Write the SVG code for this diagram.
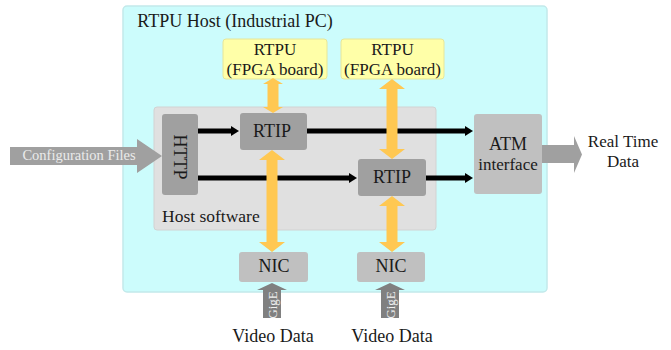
<svg xmlns="http://www.w3.org/2000/svg" width="671" height="350" viewBox="0 0 671 350">
<defs>
<style>
.t{font-family:"Liberation Serif","Times New Roman",serif;fill:#1a1a1a;text-anchor:middle;font-size:18px}
.t2{font-size:17px}
.orange{fill:#ffc852}
.blk{stroke:#000;stroke-width:5;fill:none}
</style>
<marker id="ah" markerWidth="2" markerHeight="2" refX="0.2" refY="1" orient="auto" markerUnits="strokeWidth">
<path d="M0,0 L1.6,1 L0,2 Z" fill="#000"/>
</marker>
</defs>
<rect width="671" height="350" fill="#fff"/>
<g id="host">
<rect x="123" y="6" width="424" height="286" rx="4" fill="#ccfcfc" stroke="#c2e9ea" stroke-width="1.5"/>
<text class="t" x="235" y="27">RTPU Host (Industrial PC)</text>
</g>
<g id="hostsw">
<rect x="154" y="107" width="282" height="123" rx="3" fill="#e0e0e0" stroke="#d2d2d2"/>
<text class="t" x="162" y="222" style="text-anchor:start;font-size:17.5px">Host software</text>
</g>
<g id="rtpu1">
<rect x="223" y="39" width="104" height="40" rx="3" fill="#ffffa8" stroke="#e6e69a"/>
<text class="t t2" x="275" y="55">RTPU</text>
<text class="t t2" x="275" y="74.5">(FPGA board)</text>
</g>
<g id="rtpu2">
<rect x="341" y="39" width="103" height="40" rx="3" fill="#ffffa8" stroke="#e6e69a"/>
<text class="t t2" x="392.5" y="55">RTPU</text>
<text class="t t2" x="392.5" y="74.5">(FPGA board)</text>
</g>
<g id="http">
<rect x="162" y="114" width="36" height="81" rx="3" fill="#a0a0a0"/>
<text class="t" transform="translate(180,157) rotate(90)" y="6">HTTP</text>
</g>
<g id="rtip1">
<rect x="240" y="113" width="67" height="37" rx="3" fill="#a0a0a0"/>
<text class="t" x="272" y="137">RTIP</text>
</g>
<g id="rtip2">
<rect x="358" y="159" width="68" height="37" rx="3" fill="#a0a0a0"/>
<text class="t" x="392" y="183">RTIP</text>
</g>
<g id="atm">
<rect x="474" y="114" width="68" height="80" rx="3" fill="#c0c0c0"/>
<text class="t" x="508" y="150">ATM</text>
<text class="t" x="508" y="169.5" style="font-size:17px">interface</text>
</g>
<g id="nic1">
<rect x="239" y="252" width="69" height="30" rx="3" fill="#c0c0c0"/>
<text class="t" x="274" y="272">NIC</text>
</g>
<g id="nic2">
<rect x="357" y="252" width="68" height="30" rx="3" fill="#c0c0c0"/>
<text class="t" x="391" y="272">NIC</text>
</g>
<g id="connectors">
<line class="blk" x1="198" y1="131" x2="232" y2="131" marker-end="url(#ah)"/>
<line class="blk" x1="307" y1="131" x2="466" y2="131" marker-end="url(#ah)"/>
<line class="blk" x1="198" y1="178" x2="350" y2="178" marker-end="url(#ah)"/>
<line class="blk" x1="426" y1="178" x2="466" y2="178" marker-end="url(#ah)"/>
<path class="orange" d="M273,78 L283,84 L278.5,84 L278.5,107 L283,107 L273,113 L263,107 L267.5,107 L267.5,84 L263,84 Z"/>
<path class="orange" d="M272,150 L285,160 L277.5,160 L277.5,242 L285,242 L272,252 L259,242 L266.5,242 L266.5,160 L259,160 Z"/>
<path class="orange" d="M392,79 L405,89 L397.5,89 L397.5,149 L405,149 L392,159 L379,149 L386.5,149 L386.5,89 L379,89 Z"/>
<path class="orange" d="M392,196 L405,206 L397.5,206 L397.5,242 L405,242 L392,252 L379,242 L386.5,242 L386.5,206 L379,206 Z"/>
<path d="M10,147 L137,147 L137,139 L162,156 L137,173 L137,165 L10,165 Z" fill="#a0a0a0"/>
<text class="t" x="79" y="160" style="font-size:14.5px;fill:#ebebeb">Configuration Files</text>
<path d="M542,145 L574,145 L574,136 L582,154.5 L574,173 L574,163 L542,163 Z" fill="#a0a0a0"/>
<path d="M263,318 L263,290 L257,290 L272,283 L287,290 L281,290 L281,318 Z" fill="#808080"/>
<text class="t" transform="translate(272,305) rotate(-90)" y="5" style="font-size:13px;fill:#f0f0f0">GigE</text>
<path d="M381,318 L381,290 L375,290 L390,283 L405,290 L399,290 L399,318 Z" fill="#808080"/>
<text class="t" transform="translate(390,305) rotate(-90)" y="5" style="font-size:13px;fill:#f0f0f0">GigE</text>
</g>
<g id="labels">
<text class="t t2" x="623" y="147">Real Time</text>
<text class="t t2" x="623" y="166.5">Data</text>
<text class="t" x="273" y="342">Video Data</text>
<text class="t" x="392" y="342">Video Data</text>
</g>
</svg>
